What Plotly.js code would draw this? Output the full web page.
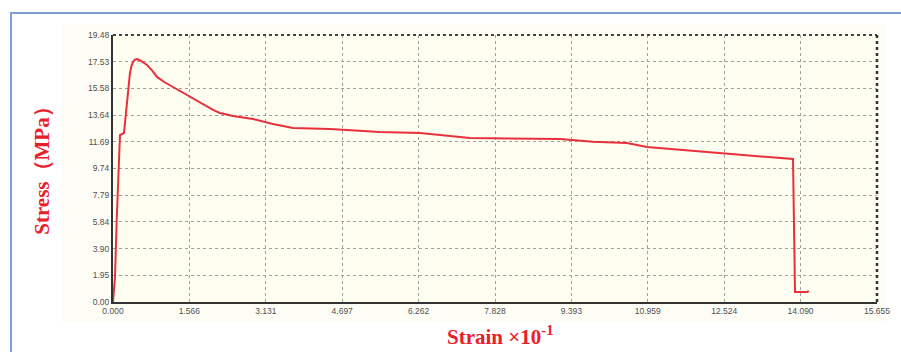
<!DOCTYPE html>
<html>
<head>
<meta charset="utf-8">
<script src="https://cdn.plot.ly/plotly-3.0.1.min.js"></script>
<style>
  html, body { margin: 0; padding: 0; background: #ffffff; }
  #wrap { position: relative; width: 901px; height: 352px; overflow: hidden; }
  #frame { position: absolute; left: 10px; top: 12px; width: 900px; height: 350px;
           border-left: 2px solid #7d9fcf; border-top: 2px solid #7d9fcf; }
  #cream { position: absolute; left: 62px; top: 24px; width: 824px; height: 298px; background: #fdfdf5; }
  #chart { position: absolute; left: 0; top: 0; width: 901px; height: 352px; }
</style>
</head>
<body>
<div id="wrap">
  <div id="frame"></div>
  <div id="cream"></div>
  <div id="chart"></div>
</div>
<script>
// Data
const strain = [0, 0.041, 0.076, 0.123, 0.143, 0.225, 0.260, 0.287, 0.318, 0.348, 0.380, 0.410, 0.450, 0.492,
                0.560, 0.630, 0.697, 0.800, 0.902, 1.050,
                1.229, 1.400, 1.578, 1.750, 1.926, 2.060, 2.193, 2.459, 2.869, 3.279, 3.688, 4.447, 5.471, 6.291,
                7.315, 9.160, 9.836, 10.532, 10.942, 12.500, 13.934, 13.975, 14.221, 14.260];
const stress = [0, 1.82, 5.98, 10.87, 12.18, 12.33, 13.60, 14.74, 15.85, 16.71, 17.25, 17.51, 17.68, 17.73,
                17.62, 17.45, 17.29, 16.90, 16.42, 16.05,
                15.69, 15.33, 14.96, 14.60, 14.23, 14.00, 13.79, 13.57, 13.35, 12.99, 12.69, 12.62, 12.40, 12.33,
                11.97, 11.89, 11.69, 11.60, 11.31, 10.87, 10.43, 0.73, 0.73, 0.80];

const xTickVals = [0, 1.5655, 3.131, 4.6965, 6.262, 7.8275, 9.393, 10.9585, 12.524, 14.0895, 15.655];
const xTickText = ["0.000", "1.566", "3.131", "4.697", "6.262", "7.828", "9.393", "10.959", "12.524", "14.090", "15.655"];
const yTickVals = [0, 1.948, 3.896, 5.844, 7.792, 9.74, 11.688, 13.636, 15.584, 17.532, 19.48];
const yTickText = ["0.00", "1.95", "3.90", "5.84", "7.79", "9.74", "11.69", "13.64", "15.58", "17.53", "19.48"];

const xTitle = "Strain ×10<sup>-1</sup>";
const yTitle = "Stress（MPa）";

const tickFont = { family: "Liberation Sans, Arial, sans-serif", size: 8.5, color: "#505050" };
const titleFont = { family: "Liberation Serif, Times New Roman, serif", size: 21, color: "#e8202a", weight: "bold" };

const trace = {
  x: strain, y: stress, type: "scatter", mode: "lines",
  line: { color: "#e8303c", width: 2 },
  hoverinfo: "skip"
};

const layout = {
  width: 901, height: 352,
  margin: { l: 113, r: 24, t: 35, b: 50 },
  paper_bgcolor: "rgba(0,0,0,0)",
  plot_bgcolor: "#fefef0",
  showlegend: false,
  xaxis: {
    range: [0, 15.655], tickmode: "array", tickvals: xTickVals, ticktext: xTickText,
    tickfont: tickFont, showgrid: true, gridcolor: "#a0a0a0", gridwidth: 1, griddash: "dot",
    showline: true, linecolor: "#333333", linewidth: 2, zeroline: false, ticks: "", ticklen: 0,
    fixedrange: true
  },
  yaxis: {
    range: [0, 19.48], tickmode: "array", tickvals: yTickVals, ticktext: yTickText,
    tickfont: tickFont, showgrid: true, gridcolor: "#a0a0a0", gridwidth: 1, griddash: "dot",
    showline: true, linecolor: "#333333", linewidth: 2, zeroline: false, ticks: "", ticklen: 0,
    fixedrange: true
  },
  shapes: [
    { type: "line", xref: "paper", yref: "paper", x0: 0, x1: 1, y0: 1, y1: 1,
      line: { color: "#444444", width: 2, dash: "dot" } },
    { type: "line", xref: "paper", yref: "paper", x0: 1, x1: 1, y0: 0, y1: 1,
      line: { color: "#333333", width: 2.5, dash: "dot" } }
  ],
  annotations: [
    { text: yTitle, xref: "paper", yref: "paper", x: -0.093, y: 0.51, xanchor: "center", yanchor: "middle",
      textangle: -90, showarrow: false, font: titleFont },
    { text: xTitle, xref: "paper", yref: "paper", x: 0.507, y: -0.125, xanchor: "center", yanchor: "middle",
      showarrow: false, font: titleFont }
  ]
};

Plotly.newPlot("chart", [trace], layout, { displayModeBar: false, staticPlot: true });
</script>
</body>
</html>
